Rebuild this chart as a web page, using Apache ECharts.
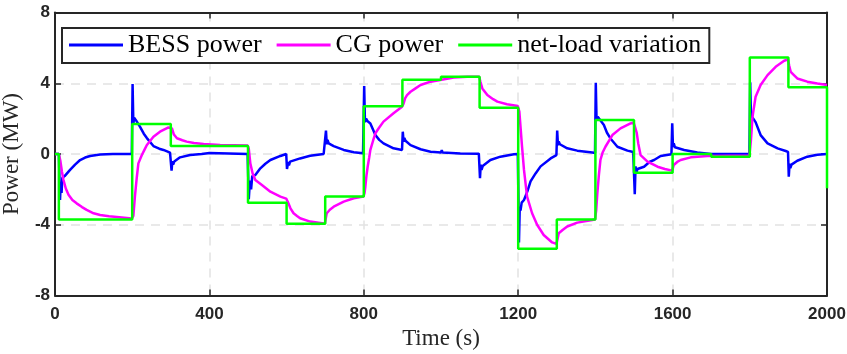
<!DOCTYPE html>
<html lang="en">
<head>
    <meta charset="UTF-8">
    <title>BESS / CG power</title>
    <script src="https://cdn.jsdelivr.net/npm/echarts@6/dist/echarts.min.js"></script>
</head>
<body style="margin:0">
<div id="chart" style="width:847px; height:354px"></div>
<script type="text/javascript">
    // axis ticks
    var xTicks = [0, 400, 800, 1200, 1600, 2000];
    var yTicks = [-8, -4, 0, 4, 8];

    // net-load variation (step, value holds until next time)
    var loadTime = [0, 10, 200, 300, 500, 600, 700, 800, 900, 1000, 1100, 1200, 1300, 1400, 1500, 1600, 1700, 1800, 1900, 2000];
    var loadValue = [0, -3.7, 1.7, 0.45, -2.75, -3.95, -2.4, 2.7, 4.2, 4.37, 2.62, -5.35, -3.7, 1.92, -1.06, 0, -0.15, 5.45, 3.77, -1.94];

    // BESS power [t, MW]
    var bessPower = [
        [0,0],[10,0],[13,-2.6],[15,-1.6],[17,-2.2],[19,-1.35],[25,-1.25],[39,-0.9],[52,-0.6],[65,-0.34],[78,-0.2],[91,-0.11],[117,-0.03],[150,0],[199,0],
        [201,3.95],[203,1.7],[205,2.05],[210,1.9],[220,1.55],[230,1.15],[238,0.9],[255,0.45],[270,0.3],[281,0.23],[298,0.08],
        [300,0.05],[302,-0.94],[304,-0.4],[306,-0.6],[309,-0.43],[324,-0.19],[350,-0.06],[380,0],[400,0.05],[402,-0.05],[404,0],[499,0],
        [502,-2.56],[505,-1.5],[508,-2.0],[511,-1.25],[519,-1.19],[532,-0.81],[545,-0.55],[558,-0.34],[584,-0.11],[599,0],
        [601,-0.85],[604,-0.45],[606,-0.65],[609,-0.43],[635,-0.25],[661,-0.1],[696,0],
        [699,0.05],[702,1.32],[704,0.55],[706,0.8],[709,0.6],[722,0.45],[748,0.23],[774,0.1],[798,0.04],
        [800,0.04],[801,3.84],[803,1.8],[806,2.0],[810,1.85],[817,1.73],[830,1.07],[840,0.8],[851,0.6],[877,0.32],[899,0.23],
        [901,1.26],[903,0.7],[905,0.9],[908,0.75],[921,0.5],[947,0.27],[973,0.13],[1000,0.08],[1002,0.22],[1004,0.08],[1050,0.03],[1098,0.02],
        [1101,-1.37],[1103,-0.6],[1105,-0.9],[1108,-0.68],[1128,-0.34],[1154,-0.15],[1189,-0.02],[1199,0],
        [1202,-5.0],[1204,-3.0],[1206,-3.2],[1209,-2.75],[1215,-2.6],[1224,-2.1],[1232,-1.55],[1245,-1.1],[1258,-0.7],[1284,-0.25],[1299,-0.06],
        [1301,1.32],[1303,0.5],[1305,0.7],[1308,0.55],[1327,0.32],[1353,0.19],[1392,0.08],[1399,0.06],
        [1401,4.03],[1403,1.9],[1406,2.1],[1410,2.0],[1422,1.64],[1430,1.2],[1439,0.88],[1457,0.41],[1483,0.19],[1498,0.11],
        [1502,-2.28],[1504,-0.7],[1506,-1.1],[1509,-0.85],[1526,-0.72],[1540,-0.45],[1552,-0.34],[1569,-0.11],[1597,-0.02],
        [1599,1.73],[1601,0.4],[1603,0.6],[1606,0.38],[1630,0.23],[1664,0.08],[1699,0],[1799,0],
        [1801,4.05],[1803,2.2],[1806,2.1],[1815,1.8],[1828,1.07],[1846,0.6],[1872,0.32],[1893,0.17],[1899,0.12],
        [1901,-1.28],[1903,-0.55],[1905,-0.8],[1908,-0.6],[1923,-0.38],[1949,-0.15],[1975,-0.04],[2000,0]
    ];

    // CG power [t, MW]
    var cgPower = [
        [0,0],[10,0],[14,-0.4],[18,-1.0],[22,-1.47],[28,-1.95],[35,-2.3],[45,-2.6],[56,-2.79],[70,-3.0],[82,-3.16],[100,-3.35],[117,-3.45],[140,-3.52],[160,-3.56],[199,-3.65],
        [203,-3.5],[207,-2.41],[212,-1.3],[216,-0.53],[225,-0.06],[232,0.25],[238,0.51],[255,0.98],[272,1.26],[294,1.5],[299,1.55],
        [303,1.45],[308,1.1],[316,0.89],[330,0.78],[341,0.7],[360,0.62],[385,0.56],[428,0.51],[499,0.48],
        [502,0.3],[506,-0.53],[512,-1.1],[519,-1.47],[536,-1.75],[558,-2.13],[584,-2.41],[599,-2.52],
        [603,-2.7],[610,-3.07],[618,-3.35],[627,-3.5],[635,-3.63],[661,-3.82],[692,-3.92],[699,-3.95],
        [701,-3.7],[704,-3.35],[712,-3.15],[722,-2.98],[748,-2.69],[774,-2.5],[799,-2.41],
        [802,-2.2],[804,-1.85],[807,-1.2],[810,-0.72],[814,-0.2],[817,0.23],[824,0.75],[830,1.17],[840,1.5],[851,1.83],[877,2.3],[899,2.67],
        [903,2.85],[907,3.15],[912,3.33],[921,3.52],[934,3.71],[947,3.9],[973,4.09],[998,4.18],[1003,4.25],[1033,4.33],[1068,4.37],[1099,4.37],
        [1102,4.1],[1107,3.71],[1120,3.33],[1135,3.1],[1146,2.96],[1171,2.81],[1199,2.71],
        [1203,2.4],[1206,1.54],[1210,0.4],[1215,-0.9],[1223,-2.41],[1236,-3.35],[1249,-4.0],[1266,-4.58],[1288,-5.0],[1299,-5.08],
        [1302,-4.8],[1305,-4.48],[1315,-4.3],[1327,-4.1],[1353,-3.88],[1392,-3.73],[1399,-3.7],
        [1402,-3.2],[1405,-2.22],[1409,-1.2],[1413,-0.34],[1419,0.1],[1426,0.41],[1444,1.07],[1465,1.45],[1491,1.73],[1499,1.78],
        [1503,1.5],[1507,1.2],[1511,0.6],[1517,-0.06],[1535,-0.43],[1561,-0.72],[1580,-0.85],[1599,-0.94],
        [1603,-0.62],[1612,-0.45],[1621,-0.34],[1647,-0.19],[1690,-0.11],[1750,-0.1],[1799,-0.1],
        [1803,0.8],[1807,2.1],[1815,3.24],[1828,3.9],[1846,4.46],[1867,4.93],[1889,5.27],[1899,5.35],
        [1902,5.0],[1906,4.65],[1915,4.45],[1923,4.27],[1949,4.09],[1975,3.99],[2000,3.9]
    ];

    var loadData = loadTime.map(function (t, i) { return [t, loadValue[i]]; });

    var frameColor = '#262626';
    var serif = 'Liberation Serif';

    function tickLabel(margin) {
        return {
            show: true, margin: margin,
            fontFamily: 'Liberation Sans', fontWeight: 'bold', fontSize: 17, color: frameColor,
            formatter: function (v) { return String(v); }
        };
    }

    function frameAxis(extra) {
        var a = {
            type: 'value',
            axisLine: { show: true, onZero: false, lineStyle: { color: frameColor, width: 2 } },
            axisTick: { show: true, inside: true, length: 6, lineStyle: { color: frameColor, width: 1.5 } },
            axisLabel: { show: false },
            splitLine: { show: false }
        };
        for (var k in extra) a[k] = extra[k];
        return a;
    }

    var gridLine = { show: true, lineStyle: { color: '#e2e2e2', width: 1.5, type: [9, 7] } };

    var myChart = echarts.init(document.getElementById('chart'));
    myChart.setOption({
        backgroundColor: '#fff',
        animation: false,
        grid: { left: 55, right: 20, top: 12.5, bottom: 58.5, containLabel: false, outerBoundsMode: 'none' },
        legend: {
            left: 62, top: 28,
            icon: 'rect', itemWidth: 54, itemHeight: 3, itemGap: 15,
            padding: [4, 8, 5, 7],
            borderColor: frameColor, borderWidth: 2,
            backgroundColor: '#fff',
            textStyle: { fontFamily: serif, fontSize: 26, color: '#000' },
            data: ['BESS power', 'CG power', 'net-load variation']
        },
        xAxis: [
            frameAxis({
                position: 'bottom', min: xTicks[0], max: xTicks[xTicks.length - 1], interval: 400,
                axisLabel: tickLabel(10),
                splitLine: gridLine,
                name: 'Time (s)', nameLocation: 'middle', nameGap: 30,
                nameTextStyle: { fontFamily: serif, fontSize: 23, color: frameColor }
            }),
            frameAxis({ position: 'top', min: xTicks[0], max: xTicks[xTicks.length - 1], interval: 400 })
        ],
        yAxis: [
            frameAxis({
                position: 'left', min: yTicks[0], max: yTicks[yTicks.length - 1], interval: 4,
                axisLabel: tickLabel(5),
                splitLine: gridLine,
                name: 'Power (MW)', nameLocation: 'middle', nameGap: 32,
                nameTextStyle: { fontFamily: serif, fontSize: 23, color: frameColor }
            }),
            frameAxis({ position: 'right', min: yTicks[0], max: yTicks[yTicks.length - 1], interval: 4 })
        ],
        series: [
            {
                name: 'BESS power', type: 'line', data: bessPower, showSymbol: false, symbol: 'none',
                lineStyle: { color: '#0000ff', width: 2.5 }, itemStyle: { color: '#0000ff' }
            },
            {
                name: 'CG power', type: 'line', data: cgPower, showSymbol: false, symbol: 'none',
                lineStyle: { color: '#ff00ff', width: 2.5 }, itemStyle: { color: '#ff00ff' }
            },
            {
                name: 'net-load variation', type: 'line', step: 'end', data: loadData, showSymbol: false, symbol: 'none',
                lineStyle: { color: '#00ff00', width: 2.5 }, itemStyle: { color: '#00ff00' }
            }
        ]
    });
</script>
</body>
</html>
